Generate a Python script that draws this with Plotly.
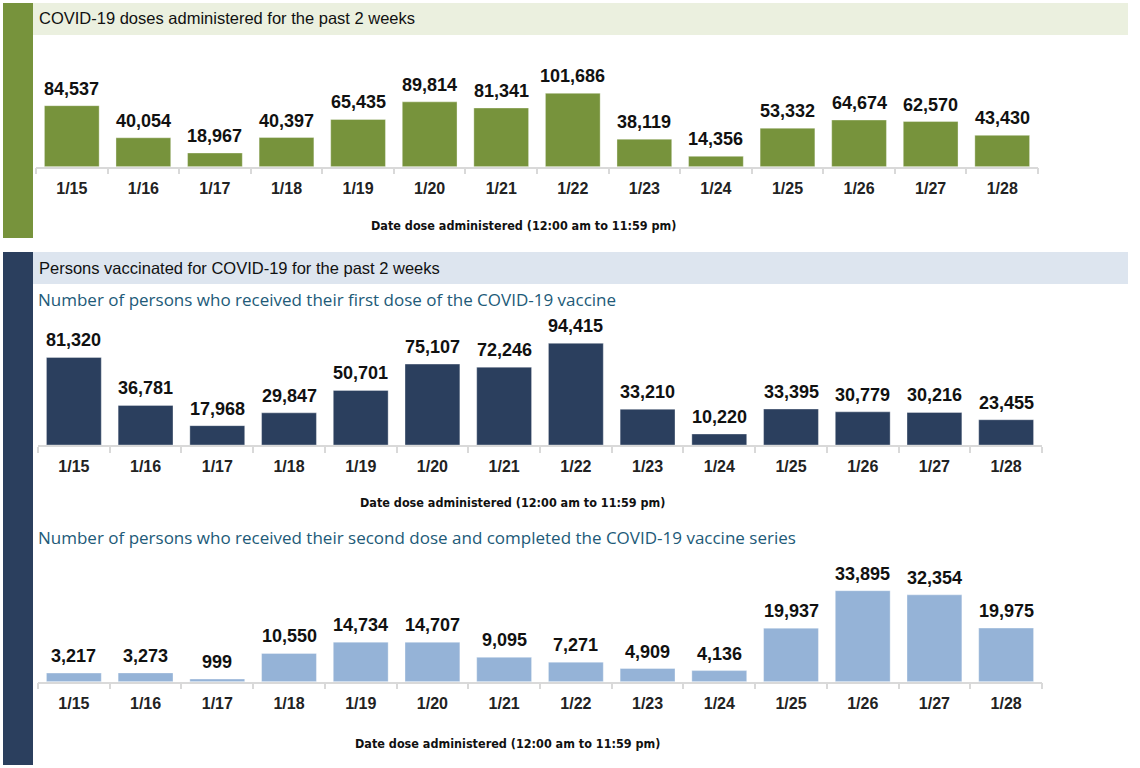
import plotly.graph_objects as go

dates = ["1/15", "1/16", "1/17", "1/18", "1/19", "1/20", "1/21",
         "1/22", "1/23", "1/24", "1/25", "1/26", "1/27", "1/28"]
doses_administered = [84537, 40054, 18967, 40397, 65435, 89814, 81341,
                      101686, 38119, 14356, 53332, 64674, 62570, 43430]
first_dose = [81320, 36781, 17968, 29847, 50701, 75107, 72246,
              94415, 33210, 10220, 33395, 30779, 30216, 23455]
second_dose = [3217, 3273, 999, 10550, 14734, 14707, 9095,
               7271, 4909, 4136, 19937, 33895, 32354, 19975]

header1 = "COVID-19 doses administered for the past 2 weeks"
header2 = "Persons vaccinated for COVID-19 for the past 2 weeks"
sub1 = "Number of persons who received their first dose of the COVID-19 vaccine"
sub2 = "Number of persons who received their second dose and completed the COVID-19 vaccine series"
axis_title = "Date dose administered (12:00 am to 11:59 pm)"

W, H = 1140, 768
GREEN = "#77933C"
NAVY = "#2B3F5E"
LBLUE = "#95B3D7"
GREEN_BG = "#EBF0DF"
BLUE_BG = "#DDE5EF"
SUB_COLOR = "#215A78"
AXIS_COLOR = "#D9D9D9"


def px(x):
    return x / W


def py(y):
    return 1 - y / H


fig = go.Figure()

# (values, color, x-domain px, baseline px, top px, ref value, ref height px)
panels = [
    (doses_administered, GREEN, (36, 1038), 166.7, 40, 101686, 73.4),
    (first_dose, NAVY, (38, 1042), 445.0, 318, 94415, 101.7),
    (second_dose, LBLUE, (38, 1042), 681.7, 560, 33895, 91.0),
]

layout_axes = {}
annotations = []
for i, (vals, col, (x0, x1), base, top, refv, refh) in enumerate(panels, start=1):
    suffix = "" if i == 1 else str(i)
    ymax = (base - top) / refh * refv
    fig.add_trace(go.Bar(
        x=dates, y=vals,
        marker=dict(color=col, line=dict(color="rgba(255,255,255,0.35)", width=1)),
        xaxis="x" + suffix, yaxis="y" + suffix, showlegend=False, hoverinfo="skip",
    ))
    for d, v in zip(dates, vals):
        annotations.append(dict(
            x=d, y=v, xref="x" + suffix, yref="y" + suffix, text=f"{v:,}",
            showarrow=False, xanchor="center", yanchor="bottom", yshift=5,
            font=dict(family="Liberation Sans", size=18, color="#111111", weight="bold"),
        ))
    layout_axes["xaxis" + suffix] = dict(
        domain=[px(x0), px(x1)], anchor="y" + suffix, type="category",
        showline=True, linecolor=AXIS_COLOR, linewidth=1.5,
        ticks="outside", tickson="boundaries", ticklen=6, tickcolor=AXIS_COLOR, tickwidth=1.5,
        tickfont=dict(family="Liberation Sans", size=16, color="#222222", weight="bold"),
        ticklabelstandoff=6, showgrid=False, zeroline=False, fixedrange=True,
    )
    layout_axes["yaxis" + suffix] = dict(
        domain=[py(base), py(top)], anchor="x" + suffix, range=[0, ymax],
        visible=False, showgrid=False, zeroline=False, fixedrange=True,
    )

fig.update_layout(**layout_axes)
fig.update_layout(bargap=0.235)

shapes = [
    dict(type="rect", xref="paper", yref="paper", x0=px(3), x1=px(33), y0=py(238), y1=py(3),
         fillcolor=GREEN, line=dict(width=0), layer="below"),
    dict(type="rect", xref="paper", yref="paper", x0=px(33), x1=px(1128), y0=py(35), y1=py(3),
         fillcolor=GREEN_BG, line=dict(width=0), layer="below"),
    dict(type="rect", xref="paper", yref="paper", x0=px(3), x1=px(33), y0=py(765), y1=py(252),
         fillcolor=NAVY, line=dict(width=0), layer="below"),
    dict(type="rect", xref="paper", yref="paper", x0=px(33), x1=px(1128), y0=py(284), y1=py(252),
         fillcolor=BLUE_BG, line=dict(width=0), layer="below"),
]

ann_common = dict(xref="paper", yref="paper", showarrow=False)
annotations += [
    dict(text=header1, x=px(37), y=py(18), xanchor="left", yanchor="middle",
         font=dict(family="Liberation Sans", size=16.5, color="#111111"), **ann_common),
    dict(text=header2, x=px(37), y=py(268), xanchor="left", yanchor="middle",
         font=dict(family="Liberation Sans", size=16.5, color="#111111"), **ann_common),
    dict(text=sub1, x=px(36), y=py(299), xanchor="left", yanchor="middle",
         font=dict(family="Open Sans", size=17, color=SUB_COLOR), **ann_common),
    dict(text=sub2, x=px(36), y=py(537), xanchor="left", yanchor="middle",
         font=dict(family="Open Sans", size=17, color=SUB_COLOR), **ann_common),
]
for ytitle, xc in [(225, 523), (502, 512), (743, 507)]:
    annotations.append(dict(text=axis_title, x=px(xc), y=py(ytitle), xanchor="center", yanchor="middle",
                            font=dict(family="DejaVu Sans Condensed", size=12.5, color="#111111", weight="bold"),
                            **ann_common))

fig.update_layout(
    width=W, height=H, margin=dict(l=0, r=0, t=0, b=0),
    paper_bgcolor="white", plot_bgcolor="rgba(0,0,0,0)",
    shapes=shapes, annotations=annotations,
)

fig.write_html("out.html", config={"displayModeBar": False},
               post_script="document.body.style.margin='0';")
